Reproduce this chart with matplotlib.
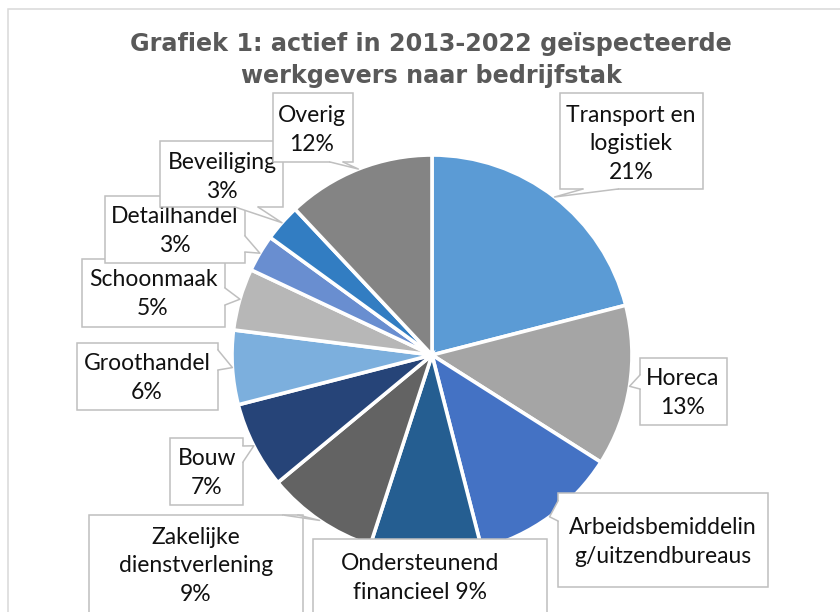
import matplotlib
matplotlib.use('Agg')
import matplotlib.pyplot as plt
import numpy as np
from matplotlib.patches import Rectangle, Polygon
from matplotlib.lines import Line2D

# ---------------- data ----------------
categories = ["Transport en\nlogistiek", "Horeca", "Arbeidsbemiddelin\ng/uitzendbureaus",
              "Ondersteunend\nfinancieel", "Zakelijke\ndienstverlening", "Bouw",
              "Groothandel", "Schoonmaak", "Detailhandel", "Beveiliging", "Overig"]
values = [21, 13, 12, 9, 9, 7, 6, 5, 3, 3, 12]
colors = ["#5B9BD5", "#A5A5A5", "#4472C4", "#255E91", "#636363", "#264478",
          "#7CAFDD", "#B7B7B7", "#698ED0", "#327DC2", "#848484"]
# how name and percentage are joined (None = percentage not shown)
label_sep = ["\n", "\n", None, " ", "\n", "\n", "\n", "\n", "\n", "\n", "\n"]
title = "Grafiek 1: actief in 2013-2022 geïspecteerde\nwerkgevers naar bedrijfstak"

# ---------------- layout (pixels) ----------------
W, H = 840, 612
CX, CY, R = 432, 355, 200
# label boxes: (x0, y0, x1, y1) in pixels, text centre, wedge (side, a, b)
boxes = [
    ((560, 93, 703, 189), (631, 144), ("bottom", 583, 618)),
    ((640, 358, 727, 425), (683, 393), ("left", 375, 389)),
    ((558, 493, 768, 587), (663, 542), ("left", 501, 521)),
    ((313, 539, 547, 640), (420, 578), None),
    ((89, 515, 303, 640), (196, 566), ("top", 283, 298)),
    ((170, 438, 243, 505), (207, 473), ("right", 446, 462)),
    ((77, 343, 218, 410), (147, 378), ("right", 350, 370)),
    ((82, 259, 225, 327), (153, 294), ("right", 288, 305)),
    ((105, 196, 245, 263), (175, 231), ("right", 236, 252)),
    ((160, 141, 283, 207), (222, 177), ("bottom", 235, 258)),
    ((273, 93, 353, 162), (312, 130), ("bottom", 330, 343)),
]

def d(px, py):
    return ((px - CX) / R, (CY - py) / R)

fig = plt.figure(figsize=(W / 100, H / 100), dpi=100)
ax = fig.add_axes([0, 0, 1, 1])

wedges, _ = ax.pie(values, colors=colors, startangle=90, counterclock=False,
                   radius=1, center=(0, 0),
                   wedgeprops=dict(edgecolor="white", linewidth=2.6))
ax.set_xlim(-CX / R, (W - CX) / R)
ax.set_ylim((CY - H) / R, CY / R)
ax.set_aspect("equal", adjustable="box")
ax.axis("off")

# outer chart border
x0, y0 = d(8, 9)
x1, y1 = d(W + 10, H + 10)
ax.add_patch(Rectangle((x0, y1), x1 - x0, y0 - y1, fill=False,
                       edgecolor="#D9D9D9", linewidth=1.1, zorder=0.5, clip_on=False))

# title
tx, ty = d(431, 60)
ax.text(tx, ty, title, ha="center", va="center", fontsize=17.2, fontweight="bold",
        color="#595959", family="DejaVu Sans", linespacing=1.37, zorder=50)

total = float(sum(values))
cum = np.cumsum([0] + values[:-1])
BORDER = "#BFBFBF"
for i, (cat, v) in enumerate(zip(categories, values)):
    (bx0, by0, bx1, by1), (tcx, tcy), wedge = boxes[i]
    z = 10 + 3 * i
    pct = f"{v / total * 100:.0f}%"
    txt = cat if label_sep[i] is None else cat + label_sep[i] + pct
    # box
    lx, ty0 = d(bx0, by0)
    rx, ty1 = d(bx1, by1)
    ax.add_patch(Rectangle((lx, ty1), rx - lx, ty0 - ty1, facecolor="white",
                           edgecolor=BORDER, linewidth=1.1, zorder=z, clip_on=False))
    # callout pointer to mid-angle of the slice
    mid = (cum[i] + v / 2) / total
    theta = np.deg2rad(90 - 360 * mid)
    tip = (np.cos(theta), np.sin(theta))
    if wedge is not None:
        side, a, b = wedge
        if side == "bottom":
            p1, p2 = (a, by1), (b, by1)
            q1, q2 = (a, by1 - 2), (b, by1 - 2)
        elif side == "top":
            p1, p2 = (a, by0), (b, by0)
            q1, q2 = (a, by0 + 2), (b, by0 + 2)
        elif side == "left":
            p1, p2 = (bx0, a), (bx0, b)
            q1, q2 = (bx0 + 2, a), (bx0 + 2, b)
        else:
            p1, p2 = (bx1, a), (bx1, b)
            q1, q2 = (bx1 - 2, a), (bx1 - 2, b)
        P1, P2, Q1, Q2 = d(*p1), d(*p2), d(*q1), d(*q2)
        ax.add_patch(Polygon([Q1, P1, tip, P2, Q2], closed=True, facecolor="white",
                             edgecolor="none", zorder=z + 1, clip_on=False))
        ax.add_line(Line2D([P1[0], tip[0], P2[0]], [P1[1], tip[1], P2[1]],
                           color=BORDER, linewidth=1.1, zorder=z + 1))
    cx_, cy_ = d(tcx, tcy)
    ax.text(cx_, cy_, txt, ha="center", va="center", fontsize=16.5, family="Lato",
            color="#111111", linespacing=1.44, zorder=z + 2)

fig.savefig("out.png", dpi=100)
